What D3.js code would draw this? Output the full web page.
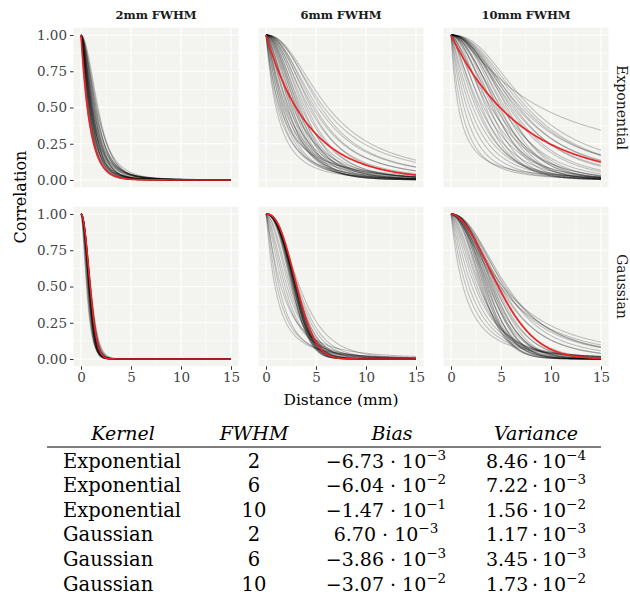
<!DOCTYPE html>
<html>
<head>
<meta charset="utf-8">
<script src="https://cdn.jsdelivr.net/npm/d3@7"></script>
<style>
  body { margin: 0; background: #fff; }
  text { font-family: "DejaVu Serif", serif; }
</style>
</head>
<body>
<div id="chart"></div>
<script>
// facets
var kernels = ["Exponential", "Gaussian"];
var fwhms = [2, 6, 10];
var xTicks = [0, 5, 10, 15];
var yTicks = [0, 0.25, 0.5, 0.75, 1];

// every curve is [distance (mm) where correlation = 0.5, onset shape, tail shape]
// red = kernel curve, order: exp 2, exp 6, exp 10, gauss 2, gauss 6, gauss 10
var redCurves = [[0.63, 1, 50], [3.0, 1, 50], [4.9, 1, 50],
                 [0.92, 2, 50], [3.09, 2.4, 50], [4.73, 1.85, 50]];

// grey = estimated curves
var greyExp2 = [[0.62,1.0,6],[0.66,1.1,5],[0.70,1.2,5],[0.72,1.1,4],[0.75,1.3,5],[0.78,1.2,4],
  [0.80,1.4,5],[0.82,1.3,4],[0.84,1.2,3],[0.86,1.5,5],[0.88,1.3,4],[0.90,1.4,4],[0.92,1.2,3],
  [0.94,1.5,5],[0.96,1.4,4],[0.98,1.3,3],[1.00,1.6,5],[1.02,1.4,4],[1.04,1.5,4],[1.06,1.3,3],
  [1.08,1.6,5],[1.10,1.4,3],[1.12,1.5,4],[1.15,1.7,5],[1.18,1.4,3],[1.21,1.6,4],[1.25,1.5,3],
  [1.28,1.7,4],[1.32,1.5,3],[1.36,1.8,4],[1.40,1.6,3],[1.45,1.7,3],[1.50,1.8,4],[1.55,1.6,3],
  [1.62,1.8,3],[1.70,1.9,3]];
var greyExp6 = [[1.0,1.0,3],[1.15,1.0,2.5],[1.3,1.1,3],[1.4,1.0,2],[1.5,1.2,3],[1.6,1.1,2.5],
  [1.7,1.3,3],[1.8,1.2,2],[1.9,1.3,3],[2.0,1.2,2.5],[2.1,1.4,3],[2.2,1.5,4],[2.3,1.3,2.5],
  [2.4,1.6,4],[2.5,1.5,3],[2.6,1.7,4],[2.7,1.4,2.5],[2.8,1.8,4],[2.9,1.6,3],[3.0,1.9,4],
  [3.1,1.7,3],[3.2,1.9,4],[3.3,1.8,2.5],[3.4,2.0,3],[3.55,1.9,2],[3.7,2.0,3],[3.9,2.0,2],
  [4.1,2.1,2],[4.3,2.0,1.5],[4.5,2.2,1.5],[4.7,2.1,1.2],[4.9,2.2,1.2],[5.2,2.1,1.1],[5.5,2.3,1],
  [5.8,2.2,0.9],[6.2,2.2,0.9]];
var greyExp10 = [[0.75,1.0,1.5],[1.0,1.0,3],[1.3,1.1,3],[1.6,1.1,4],[1.9,1.2,3],[2.2,1.2,4],
  [2.5,1.3,4],[2.7,1.4,5],[2.9,1.3,5],[3.1,1.6,6],[3.3,1.4,4],[3.5,1.8,6],[3.7,1.5,5],
  [3.85,1.9,6],[4.0,1.4,6],[4.15,1.8,5],[4.3,2.0,6],[4.45,1.6,5],[4.6,2.0,6],[4.75,1.9,4],
  [4.9,2.1,6],[5.05,1.7,4],[5.2,2.1,5],[5.4,2.0,4],[5.6,2.2,5],[5.8,2.0,2.5],[6.0,2.1,2],
  [6.2,2.0,1.6],[6.4,2.2,1.5],[6.6,2.0,1.3],[6.8,2.2,1.2],[7.0,2.0,1.1],[7.3,2.2,1],
  [7.6,2.2,1.1],[8.0,2.4,0.8],[9.0,1.6,0.6]];
var greyGau2 = [[0.55,1.6,4],[0.6,1.7,5],[0.64,1.8,5],[0.68,1.8,6],[0.7,1.9,6],[0.72,2.0,8],
  [0.74,1.9,6],[0.76,2.0,8],[0.77,2.1,8],[0.78,2.0,6],[0.79,2.1,8],[0.8,2.2,10],[0.81,2.0,8],
  [0.82,2.1,8],[0.83,2.2,10],[0.84,2.0,6],[0.85,2.1,8],[0.85,2.2,10],[0.86,2.0,8],[0.86,2.1,6],
  [0.87,2.2,10],[0.87,2.0,8],[0.88,2.1,8],[0.88,2.2,10],[0.89,2.0,6],[0.89,2.1,8],[0.9,2.2,10],
  [0.9,2.0,8],[0.9,2.1,8],[0.91,2.2,10],[0.91,2.0,8],[0.92,2.1,8],[0.93,2.0,6],[0.94,2.1,8],
  [0.96,2.0,8],[0.98,2.0,6]];
var greyGau6 = [[0.9,1.1,2],[1.1,1.2,2],[1.3,1.3,2.5],[1.5,1.2,2],[1.7,1.4,2.5],[1.9,1.5,3],
  [2.1,1.6,2.5],[2.3,1.8,3],[2.45,1.9,3],[2.55,2.2,5],[2.6,2.3,6],[2.65,2.4,8],[2.7,2.2,5],
  [2.72,2.3,6],[2.75,2.5,8],[2.78,2.4,6],[2.8,2.3,5],[2.82,2.5,8],[2.84,2.4,6],[2.86,2.6,10],
  [2.88,2.3,5],[2.9,2.5,8],[2.91,2.4,6],[2.92,2.6,10],[2.94,2.3,4],[2.95,2.5,8],[2.96,2.4,6],
  [2.98,2.6,10],[3.0,2.2,4],[3.0,2.5,8],[3.02,2.4,5],[3.04,2.3,4],[3.06,2.5,6],[3.1,2.2,3],
  [3.2,2.1,3],[3.35,2.0,2.5]];
var greyGau10 = [[1.2,1.0,2.5],[1.5,1.1,2.5],[1.8,1.2,2.5],[2.1,1.3,2.5],[2.4,1.4,2.5],[2.6,1.5,3],
  [2.8,1.6,3],[2.9,1.7,4],[3.0,1.9,6],[3.1,2.0,8],[3.2,1.9,6],[3.3,2.1,8],[3.38,2.0,6],
  [3.46,2.2,10],[3.54,2.0,6],[3.62,2.1,8],[3.7,2.2,10],[3.78,1.9,6],[3.86,2.1,8],[3.94,2.2,10],
  [4.02,2.0,6],[4.1,2.3,10],[4.18,2.1,8],[4.26,2.2,8],[4.36,2.0,5],[4.46,2.2,8],[4.56,2.1,6],
  [4.66,2.0,5],[4.85,2.0,2],[5.0,2.1,2],[5.15,1.9,1.5],[5.3,2.2,1.5],[5.45,2.0,1.4],
  [5.6,2.1,1.4],[5.2,1.6,1.5],[4.9,1.5,2]];
var greyCurves = [greyExp2, greyExp6, greyExp10, greyGau2, greyGau6, greyGau10];

// table under the plot
var tableKernel = ["Exponential", "Exponential", "Exponential", "Gaussian", "Gaussian", "Gaussian"];
var tableFwhm = [2, 6, 10, 2, 6, 10];
var biasMant = [-6.73, -6.04, -1.47, 6.70, -3.86, -3.07];
var biasExp = [-3, -2, -1, -3, -3, -2];
var varMant = [8.46, 7.22, 1.56, 1.17, 3.45, 1.73];
var varExp = [-4, -3, -2, -3, -3, -2];

var width = 630, height = 596;
var panelW = 165, panelH = 159.5, padLeft = 73.5, padTop = 27.75, stepX = 185, stepY = 179;

var svg = d3.select("#chart").append("svg")
  .attr("width", width)
  .attr("height", height);

var x = d3.scaleLinear().domain([-0.75, 15.75]).range([0, panelW]);
var y = d3.scaleLinear().domain([-0.05, 1.05]).range([panelH, 0]);

// correlation at distance d for one curve
function corr(c, d) {
  var s = c[0] / Math.pow(Math.pow(2, 1 / c[2]) - 1, 1 / c[1]);
  return Math.pow(1 + Math.pow(d / s, c[1]), -c[2]);
}
var dist = d3.range(0, 15.001, 0.05);
var line = d3.line()
  .x(function(d) { return x(d[0]); })
  .y(function(d) { return y(d[1]); });
function points(c) {
  return dist.map(function(d) { return [d, corr(c, d)]; });
}

kernels.forEach(function(k, r) {
  fwhms.forEach(function(f, col) {
    var i = r * 3 + col;
    var g = svg.append("g")
      .attr("transform", "translate(" + (padLeft + col * stepX) + "," + (padTop + r * stepY) + ")");

    g.append("rect")
      .attr("width", panelW).attr("height", panelH)
      .attr("fill", "#f3f3f0");

    // grid
    var xMinor = [2.5, 7.5, 12.5], yMinor = [0.125, 0.375, 0.625, 0.875];
    g.selectAll(".vmin").data(xMinor).enter().append("line")
      .attr("x1", x).attr("x2", x).attr("y1", 0).attr("y2", panelH)
      .attr("stroke", "#fff").attr("stroke-width", 0.6);
    g.selectAll(".hmin").data(yMinor).enter().append("line")
      .attr("y1", y).attr("y2", y).attr("x1", 0).attr("x2", panelW)
      .attr("stroke", "#fff").attr("stroke-width", 0.6);
    g.selectAll(".vmaj").data(xTicks).enter().append("line")
      .attr("x1", x).attr("x2", x).attr("y1", 0).attr("y2", panelH)
      .attr("stroke", "#fff").attr("stroke-width", 1.2);
    g.selectAll(".hmaj").data(yTicks).enter().append("line")
      .attr("y1", y).attr("y2", y).attr("x1", 0).attr("x2", panelW)
      .attr("stroke", "#fff").attr("stroke-width", 1.2);

    // curves
    g.selectAll(".grey").data(greyCurves[i]).enter().append("path")
      .attr("d", function(c) { return line(points(c)); })
      .attr("fill", "none")
      .attr("stroke", "#000")
      .attr("stroke-opacity", 0.22)
      .attr("stroke-width", 1.1);
    g.append("path")
      .attr("d", line(points(redCurves[i])))
      .attr("fill", "none")
      .attr("stroke", "#ec2327")
      .attr("stroke-width", 1.7);

    // axes
    if (col == 0) {
      var ay = g.append("g")
        .call(d3.axisLeft(y).tickValues(yTicks).tickFormat(d3.format(".2f")).tickSize(3.5).tickPadding(3));
      ay.select(".domain").remove();
      ay.selectAll("line").attr("stroke", "#333");
      ay.selectAll("text").attr("fill", "#444").style("font-size", "13.5px");
    }
    if (r == 1) {
      var ax = g.append("g")
        .attr("transform", "translate(0," + panelH + ")")
        .call(d3.axisBottom(x).tickValues(xTicks).tickSize(3.5).tickPadding(3));
      ax.select(".domain").remove();
      ax.selectAll("line").attr("stroke", "#333");
      ax.selectAll("text").attr("fill", "#444").style("font-size", "13.5px");
    }

    // strips
    if (r == 0) {
      g.append("text")
        .attr("x", panelW / 2).attr("y", -9)
        .attr("text-anchor", "middle")
        .attr("fill", "#1a1a1a")
        .style("font-size", "11.5px")
        .style("font-weight", "bold")
        .text(f + "mm FWHM");
    }
    if (col == 2) {
      g.append("text")
        .attr("transform", "translate(" + (panelW + 8) + "," + (panelH / 2) + ") rotate(90)")
        .attr("text-anchor", "middle")
        .attr("fill", "#1a1a1a")
        .style("font-size", "14px")
        .text(k);
    }
  });
});

// axis titles
svg.append("text")
  .attr("transform", "translate(26," + (padTop + (panelH + stepY) / 2) + ") rotate(-90)")
  .attr("text-anchor", "middle")
  .style("font-size", "16px")
  .text("Correlation");
svg.append("text")
  .attr("x", padLeft + (2 * stepX + panelW) / 2).attr("y", 405)
  .attr("text-anchor", "middle")
  .style("font-size", "15.5px")
  .text("Distance (mm)");

// table
function fmt(v) { return v.toFixed(2).replace("-", "\u2212"); }
var colX = [63, 254, 386, 536];
var headY = 440, rowY0 = 467.5, rowStep = 24.6;
var heads = ["Kernel", "FWHM", "Bias", "Variance"];
var headX = [123, 254, 392, 536];
svg.selectAll(".head").data(heads).enter().append("text")
  .attr("x", function(d, i) { return headX[i]; })
  .attr("y", headY)
  .attr("text-anchor", "middle")
  .style("font-size", "19px")
  .style("font-style", "italic")
  .text(function(d) { return d; });
svg.append("line")
  .attr("x1", 47).attr("x2", 601).attr("y1", 447).attr("y2", 447)
  .attr("stroke", "#000").attr("stroke-width", 1);

tableKernel.forEach(function(k, i) {
  var yy = rowY0 + i * rowStep;
  svg.append("text").attr("x", colX[0]).attr("y", yy)
    .style("font-size", "19.5px").text(k);
  svg.append("text").attr("x", colX[1]).attr("y", yy)
    .attr("text-anchor", "middle").style("font-size", "19.5px").text(tableFwhm[i]);
  [[biasMant[i], biasExp[i], colX[2], " \u00b7 10"], [varMant[i], varExp[i], colX[3], "\u2009\u00b7\u200910"]].forEach(function(v) {
    var t = svg.append("text").attr("x", v[2]).attr("y", yy)
      .attr("text-anchor", "middle").style("font-size", "19px");
    t.append("tspan").text(fmt(v[0]) + v[3]);
    t.append("tspan").attr("dy", -8).style("font-size", "13.5px").text(String(v[1]).replace("-", "\u2212"));
  });
});
</script>
</body>
</html>
